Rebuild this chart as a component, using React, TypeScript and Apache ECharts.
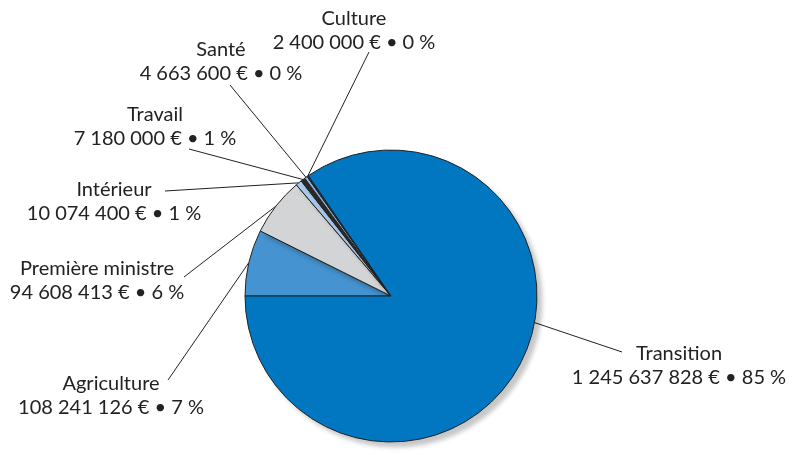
import React, { useEffect, useRef } from "react";
import * as echarts from "echarts";

const categories = ["Agriculture", "Première ministre", "Intérieur", "Travail", "Santé", "Culture", "Transition"];
const amounts = [108241126, 94608413, 10074400, 7180000, 4663600, 2400000, 1245637828];
const percentLabels = [7, 6, 1, 1, 0, 0, 85];
const colors = ["#4593d0", "#d3d4d6", "#a9c8ea", "#2b2b2b", "#8fb6e2", "#1d3557", "#0077c0"];

const CX = 391;
const CY = 296;
const R = 146;

// label placement (centre of the two-line block), leader-line end point, optional anchor angle
const labelPos: { x: number; y: number; lx: number; ly: number; a?: number }[] = [
  { x: 111, y: 394, lx: 168, ly: 380 },
  { x: 97, y: 279, lx: 184, ly: 277 },
  { x: 114, y: 200, lx: 165, ly: 191 },
  { x: 155, y: 125, lx: 189, ly: 149 },
  { x: 221, y: 60, lx: 230, ly: 85 },
  { x: 354, y: 29, lx: 369, ly: 52 },
  { x: 679, y: 364, lx: 622, ly: 352, a: -10.5 },
];

function fmt(n: number): string {
  return String(n).replace(/\B(?=(\d{3})+(?!\d))/g, " ");
}

export default function App() {
  const ref = useRef<HTMLDivElement>(null);
  useEffect(() => {
    const chart = echarts.init(ref.current!, null, { renderer: "svg" });
    chart.setOption({
      animation: false,
      series: [
        {
          type: "pie",
          center: [CX, CY],
          radius: R,
          startAngle: 180,
          clockwise: true,
          avoidLabelOverlap: false,
          data: categories.map((c, i) => ({
            name: c,
            value: amounts[i],
            itemStyle: { color: colors[i] },
          })),
          itemStyle: {
            borderColor: "#222",
            borderWidth: 1,
            shadowBlur: 4,
            shadowOffsetX: 5,
            shadowOffsetY: 5,
            shadowColor: "rgba(0,0,0,0.22)",
          },
          emphasis: { disabled: true },
          label: {
            show: true,
            position: "outside",
            formatter: (p: any) => `${p.name}\n${fmt(amounts[p.dataIndex])} € • ${percentLabels[p.dataIndex]} %`,
            fontFamily: "Lato",
            fontSize: 20,
            lineHeight: 24,
            color: "#222",
            align: "center",
          },
          labelLine: {
            show: true,
            lineStyle: { color: "#222", width: 1 },
          },
          labelLayout: (params: any) => {
            const lp = labelPos[params.dataIndex];
            let p0 = params.labelLinePoints ? params.labelLinePoints[0] : [lp.lx, lp.ly];
            if (lp.a != null) {
              const rad = (lp.a * Math.PI) / 180;
              p0 = [CX + R * Math.cos(rad), CY - R * Math.sin(rad)];
            }
            return {
              x: lp.x,
              y: lp.y,
              align: "center",
              verticalAlign: "middle",
              labelLinePoints: [p0, [lp.lx, lp.ly]],
            };
          },
        },
      ],
    });
    return () => chart.dispose();
  }, []);
  return <div ref={ref} style={{ position: "fixed", left: 0, top: 0, width: 793, height: 455 }} />;
}
